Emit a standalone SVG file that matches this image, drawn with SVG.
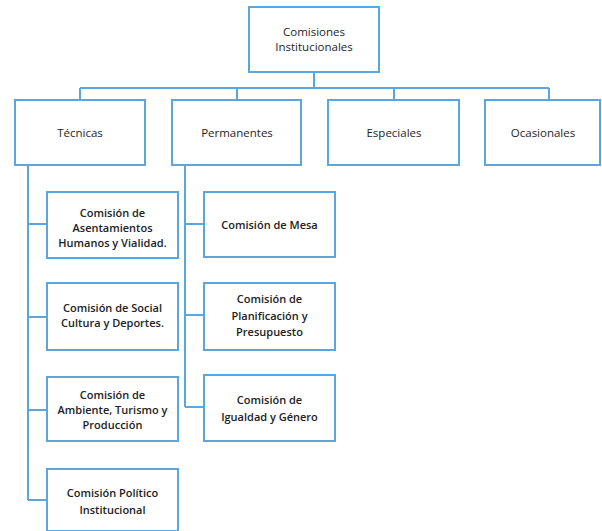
<svg xmlns="http://www.w3.org/2000/svg" width="602" height="531" viewBox="0 0 602 531">
<style>
.box{fill:#ffffff;stroke:#5ba6de;stroke-width:2}
.ln{fill:none;stroke:#5ba6de;stroke-width:2}
text{font-family:"Open Sans","Liberation Sans",sans-serif;font-size:11.5px;fill:#1e1e1e;text-anchor:middle}
.sub text{font-size:11px;font-weight:600;fill:#222}
</style>
<rect width="602" height="531" fill="#ffffff"/>
<g id="connectors">
<path class="ln" d="M314 72V88M80 88H549M80 88V100M237 88V100M394 88V100M549 88V100"/>
<path class="ln" d="M28 166V500M28 224H47M28 317H47M28 410H47M28 500H47"/>
<path class="ln" d="M185 166V407M185 224H204M185 315H204M185 407H204"/>
</g>
<g id="comisiones-institucionales"><rect class="box" x="249" y="7" width="130" height="65"/><text x="314" y="36">Comisiones</text><text x="314" y="51">Institucionales</text></g>
<g id="tecnicas"><rect class="box" x="15" y="100" width="130" height="65"/><text x="80" y="137">Técnicas</text></g>
<g id="permanentes"><rect class="box" x="172" y="100" width="129" height="65"/><text x="237" y="137">Permanentes</text></g>
<g id="especiales"><rect class="box" x="328" y="100" width="131" height="65"/><text x="394" y="137">Especiales</text></g>
<g id="ocasionales"><rect class="box" x="485" y="100" width="115" height="65"/><text x="543" y="137">Ocasionales</text></g>
<g id="asentamientos" class="sub"><rect class="box" x="47" y="192" width="131" height="66"/><text x="112.5" y="217">Comisión de</text><text x="112.5" y="232">Asentamientos</text><text x="112.5" y="247">Humanos y Vialidad.</text></g>
<g id="social" class="sub"><rect class="box" x="47" y="283" width="131" height="67"/><text x="112.5" y="312">Comisión de Social</text><text x="112.5" y="327">Cultura y Deportes.</text></g>
<g id="ambiente" class="sub"><rect class="box" x="47" y="377" width="131" height="64"/><text x="112.5" y="399">Comisión de</text><text x="112.5" y="414">Ambiente, Turismo y</text><text x="112.5" y="429">Producción</text></g>
<g id="politico" class="sub"><rect class="box" x="47" y="469" width="131" height="62"/><text x="112.5" y="497">Comisión Político</text><text x="112.5" y="514">Institucional</text></g>
<g id="mesa" class="sub"><rect class="box" x="204" y="192" width="131" height="65"/><text x="269.5" y="229">Comisión de Mesa</text></g>
<g id="planificacion" class="sub"><rect class="box" x="204" y="283" width="131" height="67"/><text x="269.5" y="303">Comisión de</text><text x="269.5" y="320">Planificación y</text><text x="269.5" y="336">Presupuesto</text></g>
<g id="igualdad" class="sub"><rect class="box" x="204" y="375" width="131" height="66"/><text x="269.5" y="404">Comisión de</text><text x="269.5" y="421">Igualdad y Género</text></g>
</svg>
